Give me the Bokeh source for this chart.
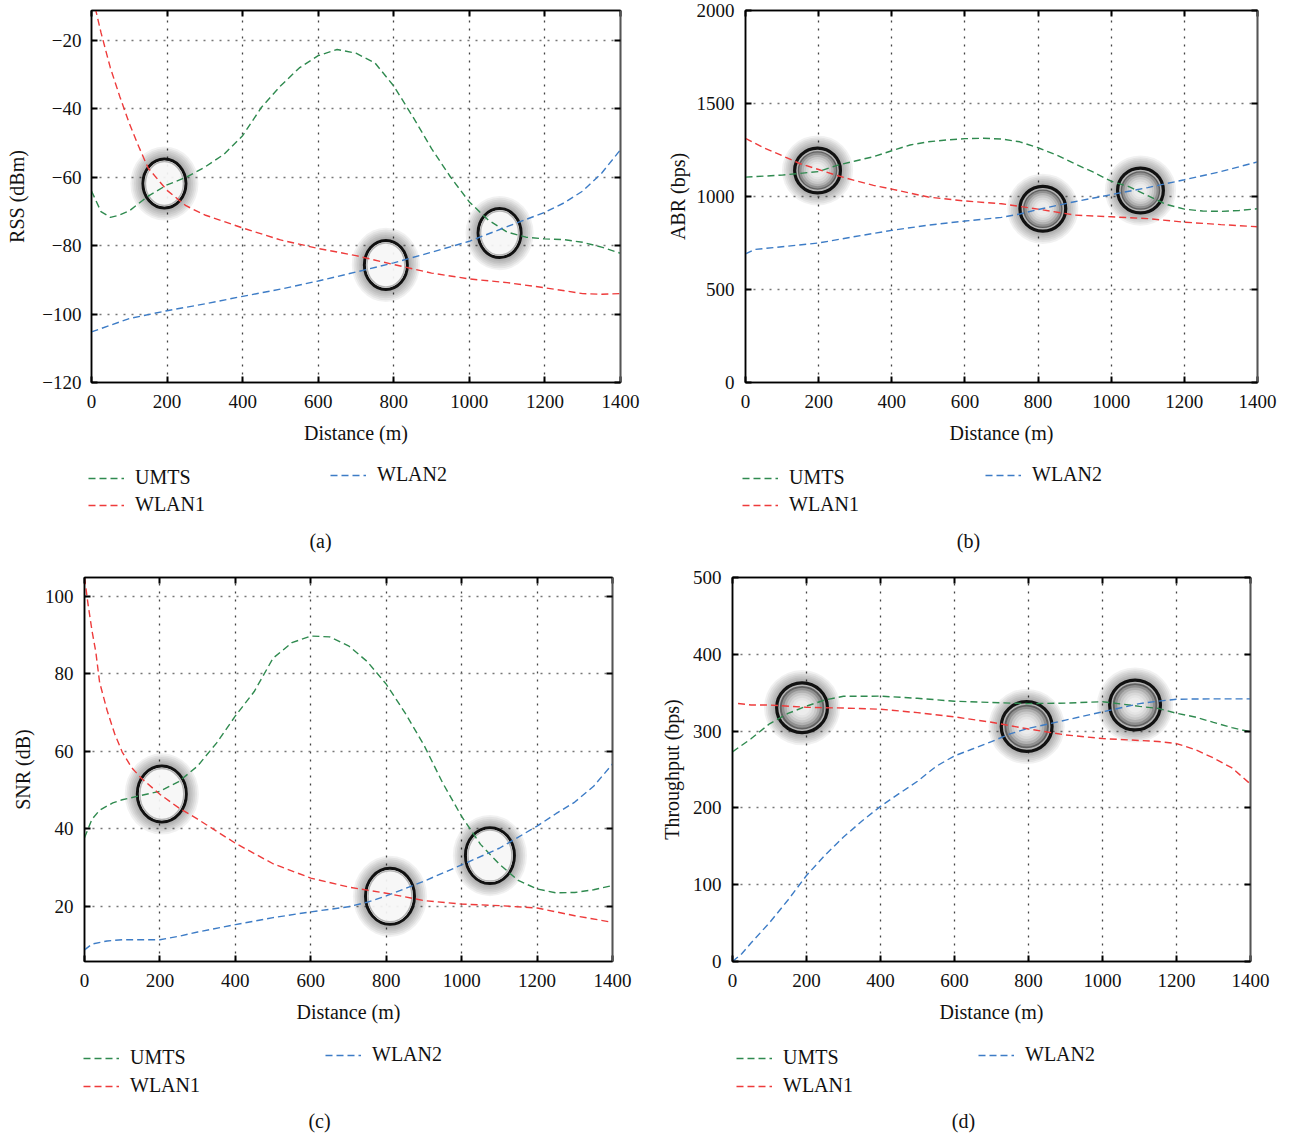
from bokeh.plotting import figure
from bokeh.models import Legend, LegendItem, Label, LinearAxis, FixedTicker, Range1d
from bokeh.layouts import column, row
from bokeh.embed import file_html
from bokeh.resources import INLINE

FONT = "Liberation Serif"
GREEN = "#2f8a4f"
RED = "#ee3b3b"
BLUE = "#3d7cc6"
COLORS = [GREEN, RED, BLUE]

distance_ticks = [0, 200, 400, 600, 800, 1000, 1200, 1400]
series_names = ["UMTS", "WLAN1", "WLAN2"]

# ---------------- (a) RSS (dBm) ----------------
rss_ticks = [-120, -100, -80, -60, -40, -20]
rss_umts_x = [0, 25, 50, 75, 100, 150, 200, 250, 300, 350, 400, 450, 500, 550, 600, 650, 700, 750, 800,
              850, 900, 950, 1000, 1050, 1100, 1150, 1200, 1250, 1300, 1350, 1400]
rss_umts = [-64, -70, -71.7, -71, -69.8, -65.5, -62.2, -60, -57, -53.3, -47.8, -39.5, -33.3, -28, -24.4,
            -22.6, -23.7, -26.5, -33.3, -42.2, -51.6, -59.9, -67.2, -72.5, -76, -77.5, -78, -78.2, -79,
            -80.4, -82.2]
rss_wlan1_x = [10, 25, 50, 75, 100, 125, 150, 200, 250, 300, 400, 500, 600, 700, 800, 900, 1000, 1100,
               1200, 1300, 1350, 1400]
rss_wlan1 = [-10.5, -17.6, -28, -36.4, -44.2, -51, -57.3, -63.8, -68.3, -71, -74.8, -78.3, -80.8, -82.9,
             -85.5, -88, -89.7, -90.8, -92.3, -94, -94.2, -94]
rss_wlan2_x = [0, 100, 200, 300, 400, 500, 600, 700, 800, 900, 1000, 1100, 1200, 1250, 1300, 1350, 1400]
rss_wlan2 = [-105.2, -101.3, -99, -97, -94.8, -92.7, -90.3, -87.7, -85, -81.9, -78.7, -74.4, -70.2, -67.5,
             -64, -58.8, -51.9]
rss_handover_x = [193, 779, 1080]
rss_handover_y = [-61.8, -85.6, -76.3]

# ---------------- (b) ABR (bps) ----------------
abr_ticks = [0, 500, 1000, 1500, 2000]
abr_umts_x = [0, 100, 200, 250, 300, 350, 400, 450, 500, 550, 600, 650, 700, 750, 800, 850, 900, 950,
              1000, 1050, 1100, 1150, 1200, 1250, 1300, 1350, 1400]
abr_umts = [1104, 1115, 1134, 1167, 1191, 1214, 1246, 1277, 1294, 1304, 1311, 1313, 1309, 1294, 1262,
            1224, 1176, 1132, 1082, 1052, 1005, 958, 932, 922, 920, 925, 934]
abr_wlan1_x = [0, 50, 100, 150, 200, 250, 300, 350, 400, 500, 600, 700, 800, 900, 1000, 1100, 1200,
               1300, 1400]
abr_wlan1 = [1313, 1262, 1220, 1176, 1145, 1113, 1085, 1060, 1040, 997, 976, 961, 932, 900, 891, 881,
             862, 849, 837]
abr_wlan2_x = [0, 25, 100, 200, 300, 400, 500, 600, 700, 750, 800, 850, 900, 1000, 1100, 1200, 1300, 1400]
abr_wlan2 = [691, 715, 730, 750, 785, 818, 846, 868, 888, 906, 930, 951, 972, 1010, 1048, 1090, 1134, 1186]
abr_handover_x = [197, 813, 1080]
abr_handover_y = [1140, 934, 1032]

# ---------------- (c) SNR (dB) ----------------
snr_ticks = [20, 40, 60, 80, 100]
snr_umts_x = [0, 20, 40, 75, 100, 150, 200, 250, 300, 350, 400, 450, 500, 550, 600, 650, 700, 750, 800,
              850, 900, 950, 1000, 1050, 1100, 1150, 1200, 1250, 1300, 1350, 1400]
snr_umts = [37.7, 42.5, 44.8, 46.7, 47.5, 48.6, 49.7, 52.2, 56.2, 62.1, 69.1, 75.4, 84, 88, 89.7, 89.5,
            87.2, 83.1, 77.3, 69.9, 61.6, 51.8, 43.2, 36, 30.9, 26.7, 24.5, 23.5, 23.6, 24.3, 25.4]
snr_wlan1_x = [0, 10, 20, 30, 40, 60, 80, 100, 125, 150, 200, 250, 300, 400, 500, 600, 700, 800, 900,
               1000, 1100, 1200, 1300, 1400]
snr_wlan1 = [104.8, 97.5, 91, 85.6, 77.8, 70.5, 64.5, 59.8, 55.8, 53.1, 48.9, 45.4, 42.5, 36.3, 31, 27.3,
             25, 23.4, 21.5, 20.6, 20.2, 19.6, 17.6, 15.9]
snr_wlan2_x = [0, 20, 60, 100, 200, 250, 300, 400, 500, 600, 700, 750, 800, 900, 1000, 1100, 1200, 1250,
               1300, 1350, 1400]
snr_wlan2 = [8.8, 10.3, 11.1, 11.4, 11.4, 12.3, 13.4, 15.3, 17.1, 18.6, 19.9, 21.1, 22.7, 26.5, 30.7, 35,
             40.7, 43.9, 46.9, 51, 56.7]
snr_handover_x = [205, 810, 1075]
snr_handover_y = [49, 22.6, 33.1]

# ---------------- (d) Throughput (bps) ----------------
thr_ticks = [0, 100, 200, 300, 400, 500]
thr_umts_x = [0, 50, 100, 150, 200, 250, 300, 400, 500, 600, 700, 800, 900, 1000, 1100, 1150, 1200, 1250,
              1300, 1350, 1400]
thr_umts = [273, 290, 309.5, 323, 332.5, 340.6, 345.3, 345.5, 342.7, 338.9, 337.2, 335.8, 336.4, 338.3,
            332.2, 329.6, 323.2, 318.4, 311.4, 304.5, 299]
thr_wlan1_x = [15, 50, 100, 200, 300, 400, 500, 600, 700, 800, 900, 1000, 1100, 1150, 1200, 1250, 1300,
               1350, 1400]
thr_wlan1 = [336, 334, 334, 331, 330, 328.5, 324, 318.5, 311.5, 302.7, 295, 290.3, 287.8, 286.5, 283.8,
             276, 265, 252, 231]
thr_wlan2_x = [0, 25, 50, 100, 150, 200, 250, 300, 350, 400, 450, 500, 550, 600, 650, 700, 750, 800, 900,
               1000, 1100, 1150, 1200, 1300, 1400]
thr_wlan2 = [0, 10, 24, 50.5, 80, 112, 138.5, 162, 183, 202, 218.5, 234.7, 254, 267.8, 277, 286.3, 296.4,
             303.6, 314.3, 325, 335.8, 339, 341.5, 342, 342]
thr_handover_x = [188, 795, 1088]
thr_handover_y = [330.5, 306, 334]


def style_axis(ax, tick_standoff, label_standoff):
    ax.major_tick_in = 6
    ax.major_tick_out = 0
    ax.major_tick_line_width = 2
    ax.major_tick_line_color = "black"
    ax.minor_tick_line_color = None
    ax.axis_line_color = "black"
    ax.axis_line_width = 1.5
    ax.major_label_text_font = FONT
    ax.major_label_text_font_size = "19px"
    ax.major_label_text_color = "#111111"
    ax.major_label_standoff = tick_standoff
    ax.axis_label_text_font = FONT
    ax.axis_label_text_font_size = "20px"
    ax.axis_label_text_font_style = "normal"
    ax.axis_label_text_color = "#111111"
    ax.axis_label_standoff = label_standoff


def blank_axis(ticks, color):
    ax = LinearAxis(ticker=FixedTicker(ticks=ticks))
    ax.major_tick_in = 6
    ax.major_tick_out = 0
    ax.minor_tick_in = 0
    ax.minor_tick_out = 0
    ax.major_tick_line_width = 2
    ax.major_tick_line_color = "black"
    ax.minor_tick_line_color = None
    ax.axis_line_color = color
    ax.axis_line_width = 1.5
    ax.major_label_text_font_size = "1px"
    ax.major_label_text_color = None
    ax.major_label_standoff = 0
    return ax


def draw_rings(p, xs, ys, w, h, filled):
    for k in range(7, 0, -1):
        p.ellipse(x=xs, y=ys, width=w + 3.6 * k, height=h + 3.6 * k,
                  width_units="screen", height_units="screen",
                  fill_color="black", fill_alpha=0.055, line_color=None)
    if filled:
        p.ellipse(x=xs, y=ys, width=w, height=h, width_units="screen", height_units="screen",
                  fill_color="#1c1c1c", line_color=None)
        for f in [0.9, 0.8, 0.7, 0.6, 0.5, 0.4, 0.3]:
            p.ellipse(x=xs, y=ys, width=w * f, height=h * f,
                      width_units="screen", height_units="screen",
                      fill_color="white", fill_alpha=0.3, line_color=None)
    else:
        p.ellipse(x=xs, y=ys, width=w, height=h, width_units="screen", height_units="screen",
                  fill_color="white", fill_alpha=0.9, line_color=None)
    p.ellipse(x=xs, y=ys, width=w, height=h, width_units="screen", height_units="screen",
              fill_color=None, line_color="#111111", line_width=3)
    p.ellipse(x=xs, y=ys, width=w - 5, height=h - 5, width_units="screen", height_units="screen",
              fill_color=None, line_color="#b5b5b5", line_width=1.5)


def build_plot(width, height, mbl, mbr, mbt, mbb, y_rng, y_ticks, y_label, y_overrides,
               ytick_standoff, ylabel_standoff, series, handover, ring_size, filled):
    p = figure(width=width, height=height, x_range=Range1d(0, 1400), y_range=Range1d(*y_rng),
               output_backend="svg", toolbar_location=None,
               min_border_left=mbl, min_border_right=mbr, min_border_top=mbt, min_border_bottom=mbb)
    p.background_fill_color = "white"
    p.border_fill_color = "white"
    p.outline_line_color = "black"
    p.outline_line_width = 1.5

    p.xaxis.ticker = FixedTicker(ticks=distance_ticks)
    p.yaxis.ticker = FixedTicker(ticks=y_ticks)
    p.xaxis.axis_label = "Distance (m)"
    p.yaxis.axis_label = y_label
    if y_overrides:
        p.yaxis.major_label_overrides = y_overrides
    for ax in p.xaxis:
        style_axis(ax, 12, 11)
    for ax in p.yaxis:
        style_axis(ax, ytick_standoff, ylabel_standoff)

    p.xgrid.ticker = FixedTicker(ticks=distance_ticks)
    p.ygrid.ticker = FixedTicker(ticks=y_ticks)
    p.xgrid.grid_line_color = "#444444"
    p.xgrid.grid_line_dash = "2 6"
    p.xgrid.grid_line_width = 1.3
    p.ygrid.grid_line_color = "#777777"
    p.ygrid.grid_line_dash = "2 6"
    p.ygrid.grid_line_width = 1.3

    p.add_layout(blank_axis(y_ticks, "#555555"), "right")
    p.add_layout(blank_axis(distance_ticks, "black"), "above")

    draw_rings(p, handover[0], handover[1], ring_size[0], ring_size[1], filled)

    for (xs, ys), col in zip(series, COLORS):
        p.line(xs, ys, line_color=col, line_width=1.4, line_dash="7 4")
    return p


def build_legend(width, height, series, leg1_loc, leg2_loc, spacing, caption, cap_loc):
    # legend-only strip: the series are drawn out of view so only their legend keys show
    lf = figure(width=width, height=height, x_range=Range1d(-3, -2), y_range=Range1d(-3, -2),
                x_axis_type=None, y_axis_type=None, output_backend="svg", toolbar_location=None,
                min_border_left=0, min_border_right=0, min_border_top=0, min_border_bottom=0)
    lf.outline_line_color = None
    lf.background_fill_color = "white"
    lf.border_fill_color = "white"
    keys = [lf.line(xs, ys, line_color=c, line_width=1.4, line_dash="7 4")
            for (xs, ys), c in zip(series, COLORS)]
    common = dict(border_line_color=None, background_fill_alpha=0, padding=0, margin=0,
                  spacing=spacing, glyph_width=36, glyph_height=20, label_height=20,
                  label_standoff=11, label_text_font=FONT, label_text_font_size="20px",
                  label_text_color="#111111", orientation="vertical")
    lf.add_layout(Legend(items=[LegendItem(label=series_names[0], renderers=[keys[0]]),
                                LegendItem(label=series_names[1], renderers=[keys[1]])],
                         location=leg1_loc, **common))
    lf.add_layout(Legend(items=[LegendItem(label=series_names[2], renderers=[keys[2]])],
                         location=leg2_loc, **common))
    lf.add_layout(Label(x=cap_loc[0], y=cap_loc[1], x_units="screen", y_units="screen", text=caption,
                        text_align="center", text_baseline="middle", text_font=FONT,
                        text_font_size="20px", text_color="#111111"))
    return lf


rss_over = {t: ("\u2212" + str(abs(t)) if t < 0 else str(t)) for t in rss_ticks}

rss_series = [(rss_umts_x, rss_umts), (rss_wlan1_x, rss_wlan1), (rss_wlan2_x, rss_wlan2)]
abr_series = [(abr_umts_x, abr_umts), (abr_wlan1_x, abr_wlan1), (abr_wlan2_x, abr_wlan2)]
snr_series = [(snr_umts_x, snr_umts), (snr_wlan1_x, snr_wlan1), (snr_wlan2_x, snr_wlan2)]
thr_series = [(thr_umts_x, thr_umts), (thr_wlan1_x, thr_wlan1), (thr_wlan2_x, thr_wlan2)]

pa = build_plot(650, 452, 91, 30, 5, 70, (-120, -11.2), rss_ticks, "RSS (dBm)", rss_over, 10, 11,
                rss_series, (rss_handover_x, rss_handover_y), (43, 49), False)
pb = build_plot(643, 452, 95, 36, 10, 69, (0, 2000), abr_ticks, "ABR (bps)", None, 11, 5,
                abr_series, (abr_handover_x, abr_handover_y), (46, 45), True)
pc = build_plot(650, 472, 84, 38, 16, 71, (5.8, 104.8), snr_ticks, "SNR (dB)", None, 11, 8,
                snr_series, (snr_handover_x, snr_handover_y), (49, 56), False)
pd_ = build_plot(643, 472, 82, 43, 17, 70, (0, 500), thr_ticks, "Throughput (bps)", None, 11, 7,
                 thr_series, (thr_handover_x, thr_handover_y), (51, 50), True)

la = build_legend(650, 108, rss_series, (88, 44), (330, 74), 4, "(a)", (320, 20))
lb = build_legend(643, 108, abr_series, (92, 44), (335, 74), 4, "(b)", (318, 20))
lc = build_legend(650, 103, snr_series, (83, 38), (325, 69), 5, "(c)", (319, 15))
ld = build_legend(643, 103, thr_series, (86, 38), (328, 69), 5, "(d)", (313, 15))

layout = column(row(pa, pb), row(la, lb), row(pc, pd_), row(lc, ld))
open("out.html", "w").write(file_html(layout, INLINE))
